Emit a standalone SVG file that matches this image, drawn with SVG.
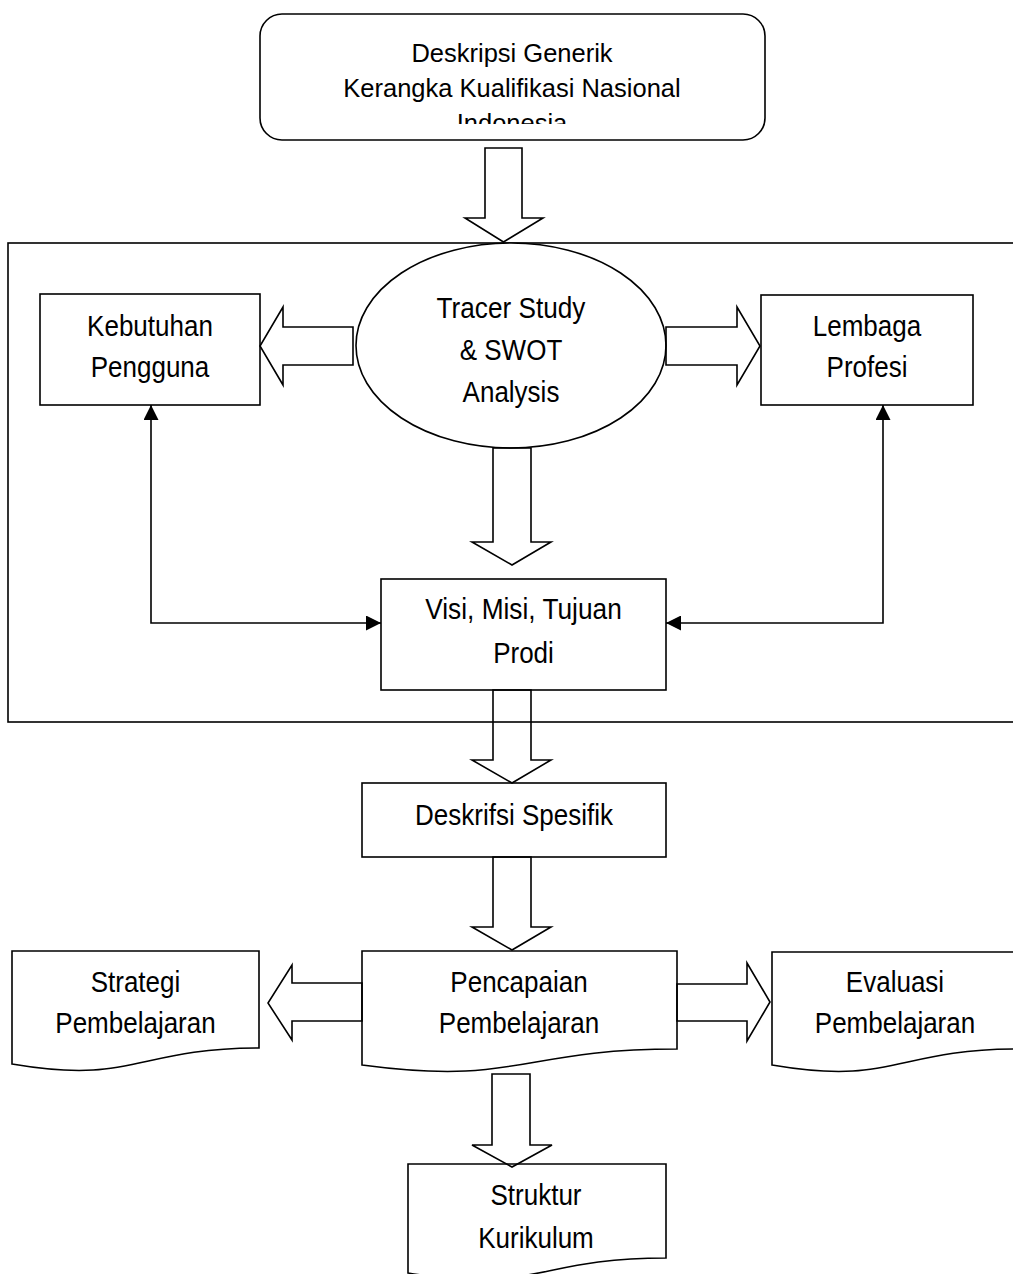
<svg xmlns="http://www.w3.org/2000/svg" width="1013" height="1274" viewBox="0 0 1013 1274">
<style>
.s{fill:#fff;stroke:#000;stroke-width:1.6}
.h{fill:none;stroke:#000;stroke-width:1.6;stroke-linejoin:miter}
.c{fill:none;stroke:#000;stroke-width:1.6}
.t{font-family:"Liberation Sans",Arial,sans-serif;font-size:29px;fill:#000;text-anchor:middle}
.tt{font-family:"Liberation Sans",Arial,sans-serif;font-size:25.5px;fill:#000;text-anchor:middle}
</style>
<defs>
<marker id="ah" viewBox="0 0 10 10" markerUnits="userSpaceOnUse" markerWidth="15" markerHeight="15" refX="10" refY="5" orient="auto-start-reverse">
<path d="M0,0 L10,5 L0,10 Z" fill="#000"/>
</marker>
<clipPath id="clipTop"><rect x="262" y="16" width="501" height="108"/></clipPath>
</defs>
<rect width="1013" height="1274" fill="#fff"/>

<g id="frame">
<rect x="8" y="243" width="1030" height="479" class="h"/>
</g>

<g id="node-kkni">
<rect x="260" y="14" width="505" height="126" rx="22" ry="22" class="s"/>
<g clip-path="url(#clipTop)">
<text class="tt" x="512" y="62">Deskripsi Generik</text>
<text class="tt" x="512" y="97">Kerangka Kualifikasi Nasional</text>
<text class="tt" x="512" y="131.5">Indonesia</text>
</g>
</g>

<g id="node-tracer">
<ellipse cx="511" cy="345.5" rx="155" ry="102.5" class="s"/>
<text class="t" x="511" y="318" textLength="148.8" lengthAdjust="spacingAndGlyphs">Tracer Study</text>
<text class="t" x="511" y="360" textLength="102.6" lengthAdjust="spacingAndGlyphs">&amp; SWOT</text>
<text class="t" x="511" y="402" textLength="96.8" lengthAdjust="spacingAndGlyphs">Analysis</text>
</g>

<g id="node-kebutuhan">
<rect x="40" y="294" width="220" height="111" class="s"/>
<text class="t" x="150" y="336" textLength="125.8" lengthAdjust="spacingAndGlyphs">Kebutuhan</text>
<text class="t" x="150" y="377" textLength="118.5" lengthAdjust="spacingAndGlyphs">Pengguna</text>
</g>

<g id="node-lembaga">
<rect x="761" y="295" width="212" height="110" class="s"/>
<text class="t" x="867" y="336" textLength="108.4" lengthAdjust="spacingAndGlyphs">Lembaga</text>
<text class="t" x="867" y="377" textLength="80.9" lengthAdjust="spacingAndGlyphs">Profesi</text>
</g>

<g id="node-visi">
<rect x="381" y="579" width="285" height="111" class="s"/>
<text class="t" x="523.5" y="619" textLength="196.5" lengthAdjust="spacingAndGlyphs">Visi, Misi, Tujuan</text>
<text class="t" x="523.5" y="663" textLength="60.7" lengthAdjust="spacingAndGlyphs">Prodi</text>
</g>

<g id="node-deskrifsi">
<rect x="362" y="783" width="304" height="74" class="s"/>
<text class="t" x="514" y="825" textLength="197.9" lengthAdjust="spacingAndGlyphs">Deskrifsi Spesifik</text>
</g>

<g id="node-strategi">
<path d="M12,951 H259 V1048 C135.5,1048 135.5,1085 12,1064 Z" class="s"/>
<text class="t" x="135.5" y="992" textLength="89.6" lengthAdjust="spacingAndGlyphs">Strategi</text>
<text class="t" x="135.5" y="1033" textLength="160.4" lengthAdjust="spacingAndGlyphs">Pembelajaran</text>
</g>

<g id="node-pencapaian">
<path d="M362,951 H677 V1049 C519.5,1049 519.5,1086 362,1065 Z" class="s"/>
<text class="t" x="519" y="992" textLength="137.3" lengthAdjust="spacingAndGlyphs">Pencapaian</text>
<text class="t" x="519" y="1033" textLength="160.4" lengthAdjust="spacingAndGlyphs">Pembelajaran</text>
</g>

<g id="node-evaluasi">
<path d="M772,952 H1018 V1049 C895,1049 895,1086 772,1065 Z" class="s"/>
<text class="t" x="895" y="992" textLength="98.3" lengthAdjust="spacingAndGlyphs">Evaluasi</text>
<text class="t" x="895" y="1033" textLength="160.4" lengthAdjust="spacingAndGlyphs">Pembelajaran</text>
</g>

<g id="node-struktur">
<path d="M408,1164 H666 V1258 C537,1258 537,1294 408,1273 Z" class="s"/>
<text class="t" x="536" y="1205" textLength="91" lengthAdjust="spacingAndGlyphs">Struktur</text>
<text class="t" x="536" y="1248" textLength="115.6" lengthAdjust="spacingAndGlyphs">Kurikulum</text>
</g>

<g id="connectors">
<polygon class="h" points="485,148 522,148 522,218 543,218 503.5,242 465,218 485,218"/>
<polygon class="h" points="353,327 283,327 283,307 260,346 283,385 283,365 353,365"/>
<polygon class="h" points="666,327 737,327 737,307 760,346 737,385 737,365 666,365"/>
<polygon class="h" points="493,448 531,448 531,542 551,542 512,565 472,542 493,542"/>
<polygon class="h" points="493,690 531,690 531,760 551,760 512,783 472,760 493,760"/>
<polygon class="h" points="493,857 531,857 531,927 551,927 512,950 472,927 493,927"/>
<polygon class="h" points="362,983 292,983 292,965 268,1003 292,1040 292,1021 362,1021"/>
<polygon class="h" points="677,984 747,984 747,963 770,1002 747,1041 747,1021 677,1021"/>
<polygon class="h" points="492,1074 530,1074 530,1145 552,1145 512,1167 472,1145 492,1145"/>
<path class="c" d="M381,623 H151 V405" marker-start="url(#ah)" marker-end="url(#ah)"/>
<path class="c" d="M666,623 H883 V405" marker-start="url(#ah)" marker-end="url(#ah)"/>
</g>
</svg>
